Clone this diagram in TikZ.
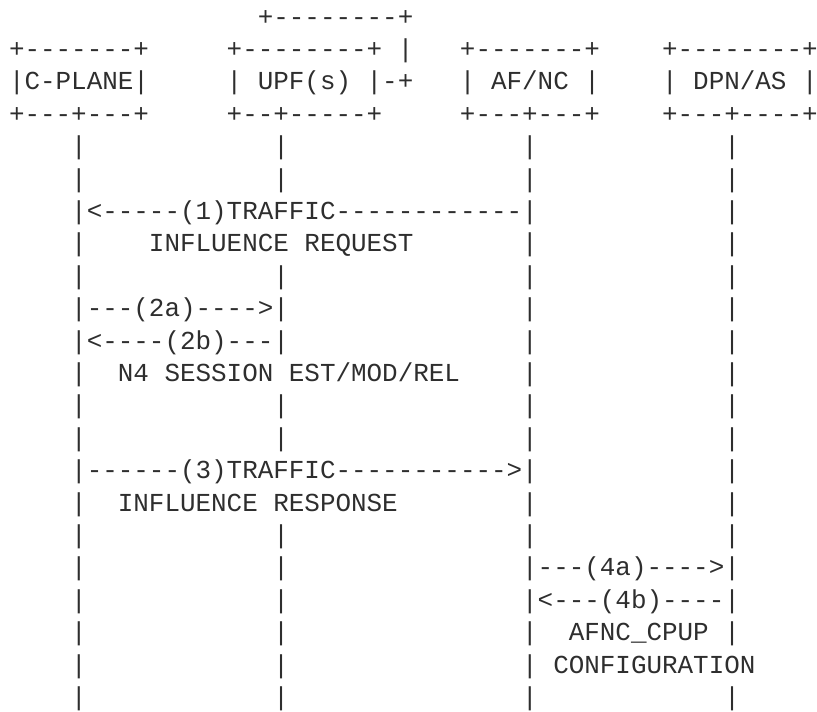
\documentclass[tikz,border=0pt]{standalone}
\usepackage{fontspec}
\setmonofont{Liberation Mono}
\tikzset{
  txt/.style={anchor=base west,inner sep=0pt,outer sep=0pt,font=\ttfamily\fontsize{19.44pt}{23pt}\selectfont,text=black!82}
}
\newcommand\asc[4]{\node[txt] (#1) at ({9+#2*15.55},{-(25+(#3-1)*32.4)}) {#4};}
\begin{document}
\begin{tikzpicture}[x=0.75pt,y=0.75pt]
\useasboundingbox (0,0) rectangle (817,-711);
% boxes
\asc{upftop}{16}{1}{+--------+}
\asc{cpt}{0}{2}{+-------+}
\asc{upft}{14}{2}{+--------+}
\asc{upfbar}{25}{2}{|}
\asc{aft}{29}{2}{+-------+}
\asc{dpnt}{42}{2}{+--------+}
\asc{cp}{0}{3}{|C-PLANE|}
\asc{upf}{14}{3}{| UPF(s) |-+}
\asc{af}{29}{3}{| AF/NC |}
\asc{dpn}{42}{3}{| DPN/AS |}
\asc{cpb}{0}{4}{+---+---+}
\asc{upfb}{14}{4}{+--+-----+}
\asc{afb}{29}{4}{+---+---+}
\asc{dpnb}{42}{4}{+---+----+}
% lifeline bars
\foreach \r in {5,6,9,13,14,17,22}{
  \foreach \c in {4,17,33,46}{
    \asc{bar-\r-\c}{\c}{\r}{|}
  }
}
\foreach \r/\c in {7/46, 8/4, 8/33, 8/46, 10/33, 10/46, 11/33, 11/46, 12/4, 12/33, 12/46,
                   15/46, 16/4, 16/33, 16/46, 18/4, 18/17, 19/4, 19/17, 20/4, 20/17, 20/33, 20/46,
                   21/4, 21/17, 21/33}{
  \asc{bar-\r-\c}{\c}{\r}{|}
}
% messages
\asc{m1}{4}{7}{|<-----(1)TRAFFIC------------|}
\asc{m1l}{9}{8}{INFLUENCE REQUEST}
\asc{m2a}{4}{10}{|---(2a)---->|}
\asc{m2b}{4}{11}{|<----(2b)---|}
\asc{m2l}{7}{12}{N4 SESSION EST/MOD/REL}
\asc{m3}{4}{15}{|------(3)TRAFFIC----------->|}
\asc{m3l}{7}{16}{INFLUENCE RESPONSE}
\asc{m4a}{33}{18}{|---(4a)---->|}
\asc{m4b}{33}{19}{|<---(4b)----|}
\asc{m4l}{36}{20}{AFNC\_CPUP}
\asc{m4l2}{35}{21}{CONFIGURATION}
\end{tikzpicture}
\end{document}
